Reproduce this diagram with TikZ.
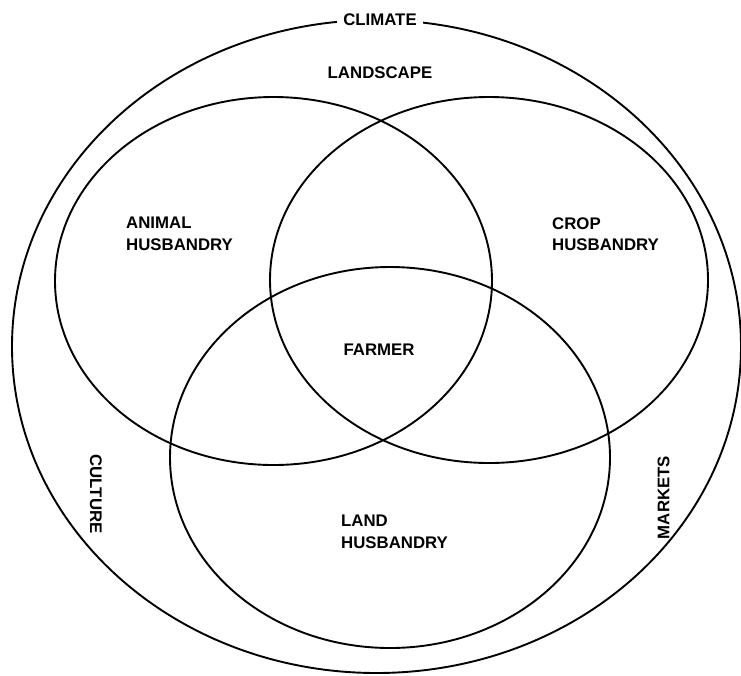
\documentclass[tikz,border=0pt]{standalone}
\usepackage{fontspec}
\setmainfont{Liberation Sans}
\tikzset{
  ring/.style={line width=1.9pt},
  lbl/.style={font=\fontsize{16.8}{21.5}\selectfont\bfseries, inner sep=0pt, align=left}
}
\begin{document}
\begin{tikzpicture}[x=1pt,y=-1pt]
            \useasboundingbox (0,0) rectangle (741,675);
            \coordinate (O) at (376.5,346.5);
            \coordinate (A) at (273.5,281);
            \coordinate (C) at (489,280);
            \coordinate (L) at (390,457.5);

            % outer ring and the three husbandries
            \draw[ring] (O) ellipse (364.5 and 326.5);
            \draw[ring] (A) ellipse (218.5 and 184);
            \draw[ring] (C) ellipse (219 and 183);
            \draw[ring] (L) ellipse (220 and 190.5);

            \node[lbl, fill=white, inner xsep=6pt, inner ysep=2pt] (climate) at (380,20) {CLIMATE};
            \node[lbl] (landscape) at (380,73) {LANDSCAPE};
            \node[lbl, anchor=west] (animal) at (126,234) {ANIMAL\\HUSBANDRY};
            \node[lbl, anchor=west] (crop) at (552,234) {CROP\\HUSBANDRY};
            \node[lbl] (farmer) at (379,350) {FARMER};
            \node[lbl, anchor=west] (land) at (341,532) {LAND\\HUSBANDRY};
            \node[lbl, rotate=-90] (culture) at (96,494) {CULTURE};
            \node[lbl, rotate=90] (markets) at (663.5,497.5) {MARKETS};
        \end{tikzpicture}
\end{document}
